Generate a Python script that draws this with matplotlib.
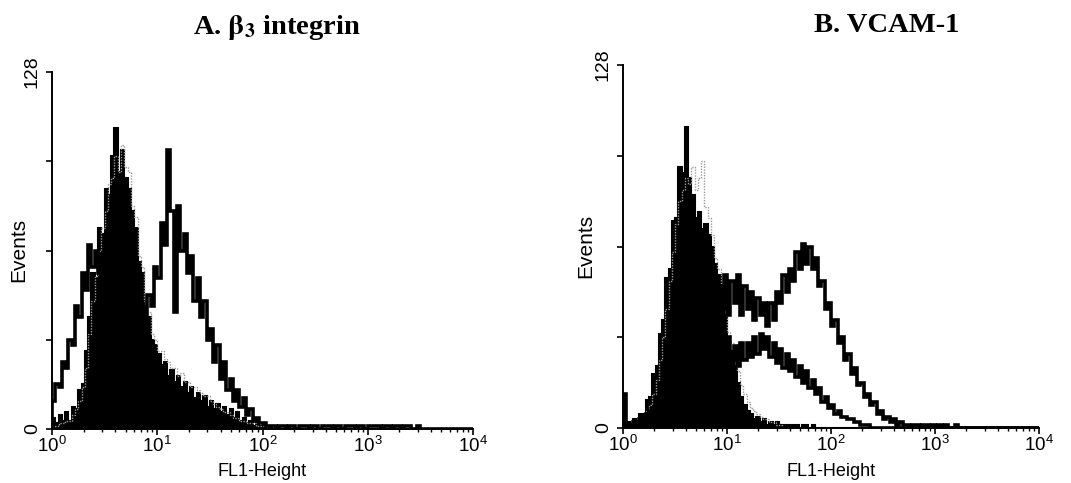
import numpy as np
import matplotlib
matplotlib.use("Agg")
import matplotlib.pyplot as plt

# ---------------- data (channels: 32 per decade, 10^0 .. 10^4) ----------------
bins_per_decade = 32
n_decades = 4

# Panel A: beta3 integrin
a_fill = [4, 2, 5, 3, 6, 3, 8, 7, 14, 16, 28, 40, 56, 54, 72, 70, 86, 84, 98, 108,
          92, 100, 90, 86, 78, 72, 60, 56, 44, 40, 32, 30, 27, 23, 24, 19, 21, 17, 19, 15,
          17, 13, 15, 11, 13, 10, 12, 8, 10, 7, 9, 6, 8, 5, 7, 4, 6, 3, 4, 2,
          3, 1, 2, 1, 2, 0, 1, 0, 1, 0, 0, 0, 0, 0, 0, 0, 0, 0, 0, 0,
          0, 0, 0, 0, 0, 0, 0, 0, 0, 0, 0, 0, 0, 0, 0, 0, 0, 0, 0, 0,
          0, 0, 0, 0, 0, 0, 0, 0, 0, 0, 0, 0, 0, 0, 0, 0, 0, 0, 0, 0,
          0, 0, 0, 0, 0, 0, 0, 0]
a_dot = [1, 1, 2, 2, 3, 3, 5, 7, 10, 15, 22, 34, 46, 55, 64, 72, 78, 88, 90, 98,
         92, 102, 94, 92, 80, 76, 62, 58, 46, 42, 34, 32, 28, 28, 25, 24, 22, 22, 19, 20,
         17, 17, 15, 15, 14, 13, 12, 12, 10, 9, 8, 7, 6, 6, 5, 4, 4, 3, 3, 2,
         2, 2, 1, 1, 1, 1, 0, 0, 0, 0, 0, 0, 0, 0, 0, 0, 0, 0, 0, 0,
         0, 0, 0, 0, 0, 0, 0, 0, 0, 0, 0, 0, 0, 0, 0, 0, 0, 0, 0, 0,
         0, 0, 0, 0, 0, 0, 0, 0, 0, 0, 0, 0, 0, 0, 0, 0, 0, 0, 0, 0,
         0, 0, 0, 0, 0, 0, 0, 0]
a_open = [10, 16, 15, 24, 22, 32, 30, 44, 40, 56, 50, 66, 58, 64, 56, 60, 52, 56, 50, 52,
          46, 50, 44, 46, 42, 44, 40, 42, 40, 48, 44, 58, 54, 74, 66, 100, 78, 42, 80, 64,
          70, 56, 62, 46, 54, 40, 46, 32, 36, 24, 30, 18, 24, 14, 18, 10, 14, 8, 11, 5,
          7, 3, 4, 2, 2, 1, 1, 1, 0, 1, 1, 0, 1, 1, 0, 1, 1, 1, 0, 1,
          1, 0, 1, 1, 1, 0, 1, 1, 0, 1, 1, 1, 0, 1, 1, 0, 1, 1, 1, 1,
          0, 1, 1, 0, 1, 1, 0, 1, 1, 0, 0, 1, 0, 0, 0, 0, 0, 0, 0, 0,
          0, 0, 0, 0, 0, 0, 0, 0]

# Panel B: VCAM-1
b_fill = [1, 2, 1, 3, 2, 5, 5, 10, 11, 19, 22, 33, 38, 53, 56, 73, 74, 92, 90, 106,
          88, 82, 74, 76, 70, 72, 68, 64, 58, 54, 46, 40, 32, 27, 22, 16, 11, 8, 6, 5,
          3, 4, 2, 3, 1, 2, 1, 2, 1, 1, 1, 1, 1, 1, 0, 1, 1, 0, 1, 0,
          0, 0, 0, 0, 0, 0, 0, 0, 0, 0, 0, 0, 0, 0, 0, 0, 0, 0, 0, 0,
          0, 0, 0, 0, 0, 0, 0, 0, 0, 0, 0, 0, 0, 0, 0, 0, 0, 0, 0, 0,
          0, 0, 0, 0, 0, 0, 0, 0, 0, 0, 0, 0, 0, 0, 0, 0, 0, 0, 0, 0,
          0, 0, 0, 0, 0, 0, 0, 0]
b_dot = [0, 1, 1, 2, 2, 3, 4, 6, 8, 12, 17, 24, 32, 42, 52, 62, 72, 80, 84, 88,
         86, 92, 84, 88, 94, 78, 74, 68, 60, 56, 48, 42, 34, 30, 26, 20, 15, 12, 9, 7,
         6, 5, 4, 3, 3, 2, 2, 1, 1, 0, 0, 0, 0, 0, 0, 0, 0, 0, 0, 0,
         0, 0, 0, 0, 0, 0, 0, 0, 0, 0, 0, 0, 0, 0, 0, 0, 0, 0, 0, 0,
         0, 0, 0, 0, 0, 0, 0, 0, 0, 0, 0, 0, 0, 0, 0, 0, 0, 0, 0, 0,
         0, 0, 0, 0, 0, 0, 0, 0, 0, 0, 0, 0, 0, 0, 0, 0, 0, 0, 0, 0,
         0, 0, 0, 0, 0, 0, 0, 0]
b_open1 = [0, 0, 0, 1, 1, 2, 2, 3, 4, 5, 6, 8, 10, 12, 14, 16, 18, 20, 22, 24,
           26, 28, 30, 32, 34, 36, 38, 40, 42, 50, 42, 54, 40, 52, 44, 54, 40, 50, 42, 48,
           38, 46, 40, 44, 36, 44, 38, 48, 44, 54, 48, 56, 52, 62, 56, 65, 58, 64, 56, 60,
           50, 52, 42, 44, 36, 38, 30, 32, 24, 26, 19, 21, 15, 16, 11, 12, 8, 9, 5, 6,
           3, 4, 2, 3, 1, 2, 1, 1, 0, 1, 1, 0, 1, 1, 0, 1, 0, 1, 0, 1,
           0, 0, 1, 0, 0, 0, 0, 0, 0, 0, 0, 0, 0, 0, 0, 0, 0, 0, 0, 0,
           0, 0, 0, 0, 0, 0, 0, 0]
b_open2 = [12, 1, 1, 2, 2, 3, 4, 5, 6, 7, 8, 9, 10, 11, 12, 13, 14, 15, 16, 17,
           18, 19, 20, 21, 22, 23, 24, 25, 26, 27, 30, 26, 32, 24, 29, 22, 30, 24, 30, 25,
           32, 26, 33, 28, 32, 25, 30, 23, 28, 21, 26, 20, 24, 18, 22, 16, 20, 14, 17, 12,
           14, 9, 11, 7, 8, 5, 6, 4, 4, 3, 3, 2, 2, 1, 1, 1, 0, 0, 0, 0,
           0, 0, 0, 0, 0, 0, 0, 0, 0, 0, 0, 0, 0, 0, 0, 0, 0, 0, 0, 0,
           0, 0, 0, 0, 0, 0, 0, 0, 0, 0, 0, 0, 0, 0, 0, 0, 0, 0, 0, 0,
           0, 0, 0, 0, 0, 0, 0, 0]

titles = [r"A. $\mathbf{\beta}_{\mathbf{3}}$ integrin", "B. VCAM-1"]
x_label = "FL1-Height"
y_label = "Events"
y_ticks = [0, 32, 64, 96, 128]
y_ticklabels = ["0", "", "", "", "128"]
x_ticks = [1, 10, 100, 1000, 10000]
x_ticklabels = [r"$10^{0}$", r"$10^{1}$", r"$10^{2}$", r"$10^{3}$", r"$10^{4}$"]

# ---------------- drawing ----------------
plt.rcParams["font.family"] = ["Liberation Sans", "DejaVu Sans"]
plt.rcParams["mathtext.fontset"] = "custom"
plt.rcParams["mathtext.rm"] = "Liberation Sans"
plt.rcParams["mathtext.it"] = "Liberation Sans:italic"
plt.rcParams["mathtext.bf"] = "Liberation Sans:bold"

W, H = 1071, 483
fig = plt.figure(figsize=(W / 100, H / 100), dpi=100)

edges = 10 ** (np.arange(bins_per_decade * n_decades + 1) / bins_per_decade)

def px_axes(l, t, r, b):
    return fig.add_axes([l / W, 1 - b / H, (r - l) / W, (b - t) / H])

axA = px_axes(52, 72, 473, 429)
axB = px_axes(623, 65, 1039, 428)

def draw(ax, fill, dot, opens):
    ax.stairs(fill, edges, fill=True, color="black", lw=0, zorder=2)
    ax.stairs(fill, edges, color="black", lw=1.5, zorder=2)
    ax.stairs(dot, edges, color="0.6", lw=1.0, linestyle=(0, (1, 1)), zorder=3)
    for o in opens:
        ax.stairs(o, edges, color="black", lw=2.6, zorder=4)

draw(axA, a_fill, a_dot, [a_open])
draw(axB, b_fill, b_dot, [b_open1, b_open2])

for ax in (axA, axB):
    ax.set_xscale("log")
    ax.set_xlim(1, 1e4)
    ax.set_ylim(0, 128)
    for s in ("top", "right"):
        ax.spines[s].set_visible(False)
    for s in ("left", "bottom"):
        ax.spines[s].set_linewidth(1.4)
        ax.spines[s].set_zorder(5)
    ax.set_xticks(x_ticks)
    ax.set_xticklabels(x_ticklabels, fontsize=13.5)
    ax.xaxis.set_minor_locator(matplotlib.ticker.LogLocator(base=10, subs=np.arange(2, 10)))
    ax.xaxis.set_minor_formatter(matplotlib.ticker.NullFormatter())
    ax.set_yticks(y_ticks)
    ax.set_yticklabels(y_ticklabels, fontsize=14, rotation=90, va="center")
    ax.tick_params(axis="both", which="major", direction="out", length=4, width=1.2, pad=1)
    ax.tick_params(axis="y", which="major", pad=4)
    ax.tick_params(axis="x", which="minor", direction="out", length=2, width=1.0)

# titles
fig.text(277 / W, 1 - 27 / H, titles[0], fontsize=20.5, fontweight="bold",
         family="Liberation Serif", math_fontfamily="stix", ha="center", va="center")
fig.text(887 / W, 1 - 25 / H, titles[1], fontsize=20.5, fontweight="bold",
         family="Liberation Serif", ha="center", va="center")

# axis labels
fig.text(19 / W, 1 - 250 / H, y_label, rotation=90, fontsize=15, ha="center", va="center")
fig.text(586 / W, 1 - 246 / H, y_label, rotation=90, fontsize=15, ha="center", va="center")
fig.text(262 / W, 1 - 472 / H, x_label, fontsize=13, ha="center", va="center")
fig.text(831 / W, 1 - 472 / H, x_label, fontsize=13, ha="center", va="center")

fig.savefig("out.png", dpi=100)
